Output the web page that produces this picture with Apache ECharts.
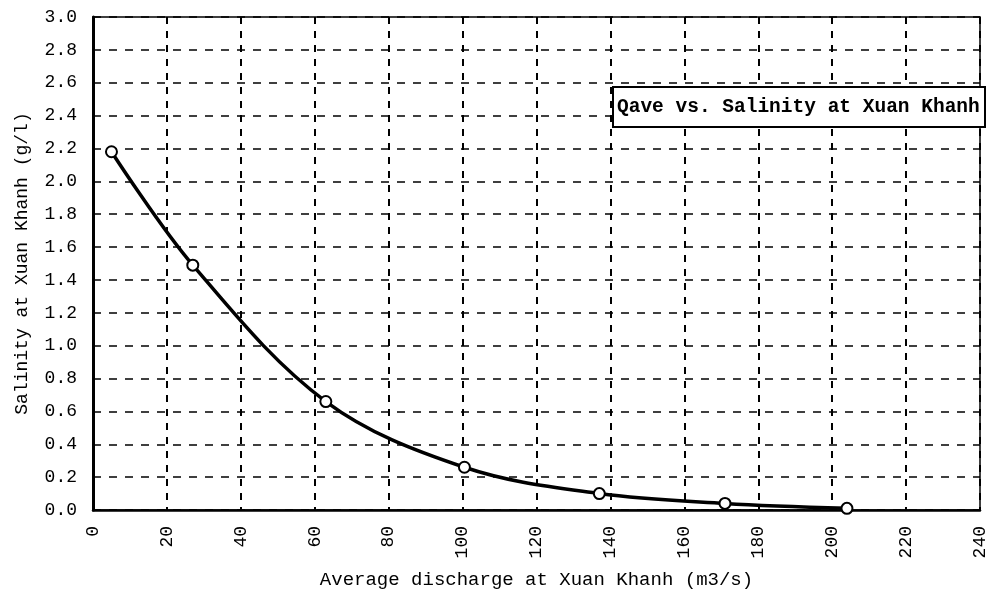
<!DOCTYPE html>
<html>
<head>
<meta charset="utf-8">
<script src="https://cdn.jsdelivr.net/npm/echarts@6/dist/echarts.min.js"></script>
<style>
  html, body { margin: 0; padding: 0; background: #fff; }
  #chart { width: 989px; height: 596px; }
</style>
</head>
<body>
<div id="chart"></div>
<script>
// discharge (m3/s) vs salinity (g/l) at Xuan Khanh
var discharge = [5, 27, 63, 100.5, 137, 171, 204];
var salinity = [2.18, 1.49, 0.66, 0.26, 0.10, 0.04, 0.01];

var seriesName = 'Qave vs. Salinity at Xuan Khanh';
var xName = 'Average discharge at Xuan Khanh (m3/s)';
var yName = 'Salinity at Xuan Khanh (g/l)';

var font = '"Liberation Mono", "DejaVu Sans Mono", monospace';

var points = [];
for (var i = 0; i < discharge.length; i++) {
    points.push([discharge[i], salinity[i]]);
}

var chart = echarts.init(document.getElementById('chart'));
var option = {
    backgroundColor: '#fff',
    animation: false,
    title: {
        text: seriesName,
        left: 613,
        top: 87,
        padding: [10, 5, 10, 4],
        backgroundColor: '#fff',
        borderColor: '#000',
        borderWidth: 2,
        textStyle: {
            fontFamily: font,
            fontSize: 19.5,
            fontWeight: 'bold',
            color: '#000'
        }
    },
    grid: {
        left: 93,
        right: 6,
        top: 17,
        bottom: 86,
        show: true,
        borderColor: '#000',
        borderWidth: 1.5
    },
    xAxis: {
        type: 'value',
        min: 0,
        max: 240,
        interval: 20,
        name: xName,
        nameLocation: 'middle',
        nameGap: 60,
        nameTextStyle: { fontFamily: font, fontSize: 19, color: '#000' },
        axisLine: { show: true, lineStyle: { color: '#000', width: 2.5 } },
        axisTick: { show: false },
        axisLabel: {
            rotate: 90,
            margin: 16,
            fontFamily: font,
            fontSize: 18,
            color: '#000'
        },
        splitLine: {
            show: true,
            lineStyle: { color: '#000', width: 2, type: [7, 7] }
        }
    },
    yAxis: {
        type: 'value',
        min: 0,
        max: 3,
        interval: 0.2,
        name: yName,
        nameLocation: 'middle',
        nameGap: 62,
        nameTextStyle: { fontFamily: font, fontSize: 18, color: '#000' },
        axisLine: { show: true, lineStyle: { color: '#000', width: 3 } },
        axisTick: { show: false },
        axisLabel: {
            margin: 16,
            fontFamily: font,
            fontSize: 18,
            color: '#000',
            formatter: function (v) { return v.toFixed(1); }
        },
        splitLine: {
            show: true,
            lineStyle: { color: '#000', width: 1.5, type: [8, 8] }
        }
    },
    series: [
        {
            name: seriesName,
            type: 'line',
            smooth: 0.35,
            data: points,
            symbol: 'circle',
            symbolSize: 11,
            lineStyle: { color: '#000', width: 3.5 },
            itemStyle: { color: '#fff', borderColor: '#000', borderWidth: 2 },
            z: 5
        }
    ]
};
chart.setOption(option);
</script>
</body>
</html>
